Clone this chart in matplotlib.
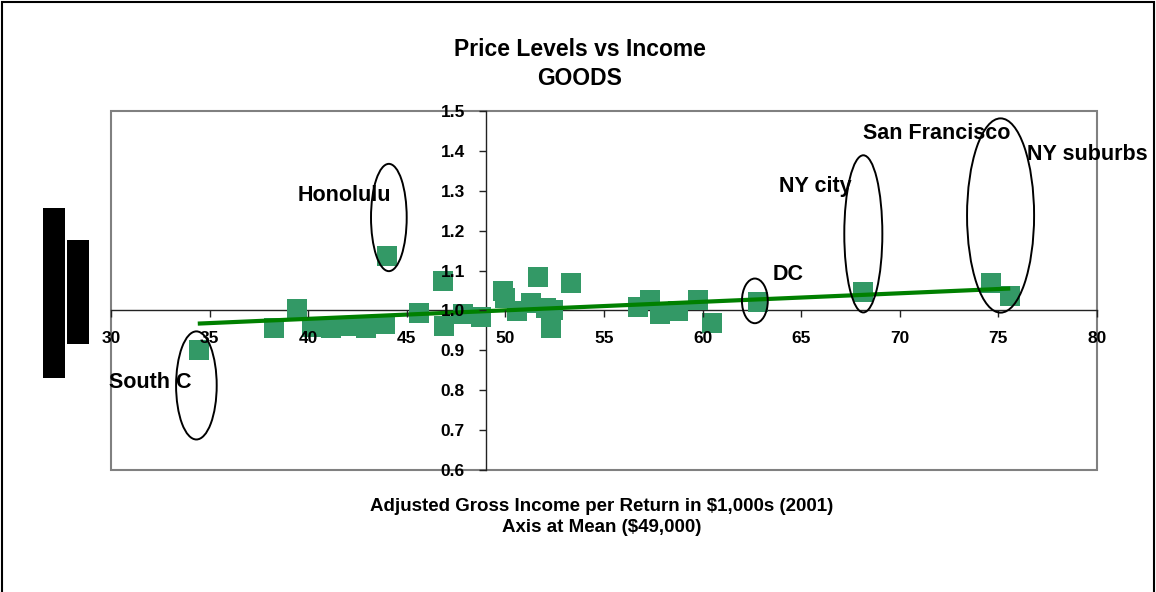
import matplotlib
matplotlib.use("Agg")
import matplotlib.pyplot as plt
from matplotlib.patches import Ellipse, Rectangle

plt.rcParams['font.family'] = ['Liberation Sans', 'DejaVu Sans']
plt.rcParams['font.weight'] = 'bold'

# ---- data ----
income = [34.44, 38.27, 39.43, 40.2, 41.15, 42.1, 42.93, 43.9, 44.0,
          45.62, 46.86, 46.88, 47.87, 48.76, 49.87, 50.0, 50.59, 51.3,
          51.64, 52.05, 52.32, 52.4, 53.33, 56.73, 57.33, 57.85, 58.75,
          59.76, 60.49, 62.8, 68.14, 74.65, 75.6]
price = [0.902, 0.957, 1.003, 0.958, 0.955, 0.96, 0.957, 0.965, 1.137,
         0.993, 1.074, 0.962, 0.992, 0.983, 1.049, 1.032, 0.999, 1.018,
         1.083, 1.006, 0.955, 1.0, 1.068, 1.009, 1.025, 0.992, 0.998,
         1.025, 0.969, 1.022, 1.045, 1.07, 1.035]
trend_x = [34.4, 75.6]
trend_y = [0.967, 1.055]

x_ticks = [30, 35, 40, 45, 50, 55, 60, 65, 70, 75, 80]
y_ticks = [0.6, 0.7, 0.8, 0.9, 1.0, 1.1, 1.2, 1.3, 1.4, 1.5]
y_tick_labels = ['0.6', '0.7', '0.8', '0.9', '1.0', '1.1', '1.2', '1.3', '1.4', '1.5']
x_mean = 49
y_cross = 1.0

# annotations: label, text anchor (x, y), ellipse centre (x, y), ellipse size (w, h)
ann_labels = ['Honolulu', 'South C', 'DC', 'NY city', 'San Francisco', 'NY suburbs']
ann_text_xy = [(39.47, 1.288), (29.91, 0.819), (63.57, 1.09), (63.88, 1.31),
               (68.14, 1.443), (76.43, 1.391)]
ellipses = [((44.09, 1.233), 1.81, 0.269),
            ((34.33, 0.812), 2.06, 0.271),
            ((62.65, 1.024), 1.31, 0.112),
            ((68.15, 1.192), 1.93, 0.394),
            ((75.11, 1.238), 3.40, 0.487)]

title = "Price Levels vs Income\nGOODS"
xlabel = "Adjusted Gross Income per Return in $1,000s (2001)\nAxis at Mean ($49,000)"

# ---- figure ----
fig = plt.figure(figsize=(11.56, 5.92), dpi=100)
ax = fig.add_axes([111/1156, 1-470/592, (1097-111)/1156, (470-111)/592])
ax.set_xlim(30, 80)
ax.set_ylim(0.6, 1.5)
ax.set_axisbelow(False)

# plot-area border
ax.add_patch(Rectangle((0, 0), 1, 1, transform=ax.transAxes, fill=False,
                       ec='#808080', lw=1.5, clip_on=False, zorder=0.5))
for s in ['top', 'right']:
    ax.spines[s].set_visible(False)
ax.spines['left'].set_position(('data', x_mean))
ax.spines['bottom'].set_position(('data', y_cross))
for s in ['left', 'bottom']:
    ax.spines[s].set_color('#222222')
    ax.spines[s].set_linewidth(1.0)
    ax.spines[s].set_zorder(1)

ax.set_xticks(x_ticks)
ax.set_yticks(y_ticks)
ax.set_yticklabels(y_tick_labels)
ax.tick_params(axis='x', direction='out', length=5, width=1, pad=10,
               labelsize=12.5, color='#222222')
ax.tick_params(axis='y', direction='out', length=5, width=1, pad=10,
               labelsize=12.5, color='#222222')
for lab in ax.get_xticklabels() + ax.get_yticklabels():
    lab.set_fontweight('bold')

ax.plot(income, price, linestyle='none', marker='s', markersize=15,
        color='#339966', markeredgewidth=0, zorder=2)
ax.plot(trend_x, trend_y, color='#008000', lw=3, zorder=2.2,
        solid_capstyle='butt')

for (c, w, h) in ellipses:
    ax.add_patch(Ellipse(c, w, h, fill=False, ec='black', lw=1.4,
                         clip_on=False, zorder=3))
for lab, (tx, ty) in zip(ann_labels, ann_text_xy):
    ax.text(tx, ty, lab, ha='left', va='center', fontsize=15.5,
            fontweight='bold', zorder=4, clip_on=False)

fig.text(580/1156, 1-64/592, title, ha='center', va='center',
         fontsize=16.5, fontweight='bold', linespacing=1.35)
fig.text(602/1156, 1-517/592, xlabel, ha='center', va='center',
         fontsize=13.5, fontweight='bold', linespacing=1.32)

# figure frame and left blocks
fig.add_artist(Rectangle((0.002, -0.02), 0.996, 1.017, transform=fig.transFigure,
                         fill=False, ec='black', lw=1.5))
fig.add_artist(Rectangle((42.7/1156, 1-377.7/592), 22.3/1156, 169.7/592,
                         transform=fig.transFigure, fc='black', ec='none'))
fig.add_artist(Rectangle((66.7/1156, 1-344/592), 22.3/1156, 104/592,
                         transform=fig.transFigure, fc='black', ec='none'))

fig.savefig('out.png', dpi=100)
